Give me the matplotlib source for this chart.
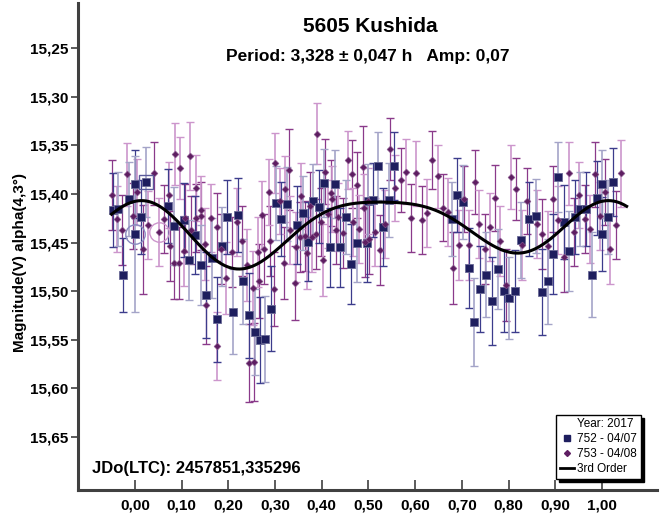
import numpy as np
import matplotlib
matplotlib.use("Agg")
import matplotlib.pyplot as plt
from matplotlib.lines import Line2D

plt.rcParams['font.family'] = ['Liberation Sans', 'DejaVu Sans']

# session 752 - 04/07 (squares)
phase_752 = [-0.048, -0.036, -0.025, -0.013, 0.001, 0.001, 0.012, 0.023, 0.071, 0.083,
             0.105, 0.116, 0.128, 0.141, 0.152, 0.164, 0.175, 0.187, 0.198, 0.209,
             0.221, 0.232, 0.245, 0.256, 0.268, 0.279, 0.291, 0.301, 0.313, 0.325,
             0.348, 0.359, 0.371, 0.382, 0.394, 0.405, 0.417, 0.429, 0.440, 0.451,
             0.463, 0.475, 0.496, 0.500, 0.509, 0.521, 0.532, 0.544, 0.555, 0.678,
             0.690, 0.702, 0.716, 0.727, 0.740, 0.752, 0.764, 0.778, 0.790, 0.801,
             0.814, 0.827, 0.844, 0.858, 0.872, 0.884, 0.896, 0.907, 0.919, 0.930,
             0.942, 0.954, 0.965, 0.979, 0.990, 1.001, 1.001, 1.013, 1.024]
mag_752 = [15.417, 15.416, 15.483, 15.405, 15.390, 15.441, 15.424, 15.388, 15.412, 15.433,
           15.427, 15.468, 15.442, 15.473, 15.504, 15.466, 15.529, 15.454, 15.424, 15.521,
           15.422, 15.490, 15.525, 15.542, 15.550, 15.549, 15.518, 15.409, 15.426, 15.410,
           15.432, 15.420, 15.449, 15.407, 15.413, 15.389, 15.455, 15.390, 15.455, 15.424,
           15.472, 15.450, 15.450, 15.407, 15.406, 15.371, 15.434, 15.406, 15.371, 15.426,
           15.401, 15.408, 15.476, 15.532, 15.498, 15.483, 15.510, 15.477, 15.500, 15.507,
           15.500, 15.447, 15.426, 15.423, 15.501, 15.490, 15.462, 15.383, 15.429, 15.459,
           15.424, 15.416, 15.416, 15.483, 15.404, 15.390, 15.441, 15.424, 15.388]
err_752 = [0.038, 0.038, 0.038, 0.038, 0.035, 0.080, 0.038, 0.036, 0.038, 0.040,
           0.038, 0.041, 0.040, 0.041, 0.044, 0.041, 0.044, 0.041, 0.038, 0.044,
           0.038, 0.044, 0.044, 0.044, 0.044, 0.044, 0.044, 0.038, 0.038, 0.038,
           0.040, 0.038, 0.041, 0.038, 0.038, 0.035, 0.041, 0.035, 0.041, 0.038,
           0.041, 0.041, 0.041, 0.038, 0.038, 0.035, 0.040, 0.038, 0.035, 0.038,
           0.038, 0.038, 0.041, 0.045, 0.044, 0.044, 0.045, 0.041, 0.042, 0.042,
           0.042, 0.039, 0.038, 0.038, 0.044, 0.044, 0.041, 0.036, 0.038, 0.041,
           0.038, 0.038, 0.038, 0.044, 0.038, 0.035, 0.038, 0.038, 0.035]

# session 753 - 04/08 (diamonds)
phase_753 = [-0.050, -0.038, -0.028, -0.017, -0.005, 0.005, 0.017, 0.028, 0.040, 0.052,
             0.063, 0.073, 0.074, 0.085, 0.084, 0.096, 0.095, 0.105, 0.107, 0.118,
             0.119, 0.130, 0.131, 0.141, 0.141, 0.151, 0.153, 0.163, 0.175, 0.176,
             0.185, 0.195, 0.207, 0.218, 0.230, 0.239, 0.244, 0.252, 0.254, 0.264,
             0.265, 0.273, 0.277, 0.287, 0.289, 0.299, 0.298, 0.310, 0.319, 0.322,
             0.330, 0.333, 0.342, 0.345, 0.353, 0.355, 0.364, 0.368, 0.375, 0.379,
             0.388, 0.390, 0.398, 0.402, 0.408, 0.413, 0.420, 0.423, 0.430, 0.434,
             0.446, 0.457, 0.465, 0.468, 0.476, 0.480, 0.488, 0.490, 0.493, 0.500,
             0.502, 0.513, 0.525, 0.535, 0.546, 0.557, 0.569, 0.580, 0.592, 0.602,
             0.615, 0.626, 0.637, 0.648, 0.660, 0.671, 0.682, 0.694, 0.705, 0.716,
             0.728, 0.737, 0.749, 0.760, 0.772, 0.782, 0.794, 0.806, 0.817, 0.829,
             0.840, 0.862, 0.872, 0.884, 0.895, 0.906, 0.918, 0.929, 0.940, 0.951,
             0.963, 0.974, 0.985, 0.996, 1.007, 1.018, 1.030, 1.041]
mag_753 = [15.401, 15.426, 15.437, 15.380, 15.423, 15.398, 15.457, 15.432, 15.379, 15.439,
           15.426, 15.401, 15.454, 15.359, 15.471, 15.373, 15.471, 15.459, 15.425, 15.361,
           15.437, 15.394, 15.425, 15.417, 15.423, 15.452, 15.514, 15.425, 15.434, 15.556,
           15.457, 15.486, 15.460, 15.429, 15.448, 15.473, 15.574, 15.497, 15.573, 15.460,
           15.490, 15.422, 15.457, 15.398, 15.448, 15.368, 15.498, 15.407, 15.471, 15.395,
           15.375, 15.437, 15.492, 15.455, 15.444, 15.402, 15.443, 15.461, 15.412, 15.444,
           15.441, 15.338, 15.429, 15.468, 15.377, 15.421, 15.399, 15.405, 15.437, 15.424,
           15.440, 15.365, 15.380, 15.429, 15.391, 15.436, 15.372, 15.414, 15.449, 15.407,
           15.446, 15.439, 15.458, 15.431, 15.354, 15.394, 15.386, 15.377, 15.425, 15.379,
           15.427, 15.420, 15.365, 15.382, 15.414, 15.419, 15.476, 15.453, 15.405, 15.453,
           15.388, 15.431, 15.457, 15.434, 15.404, 15.448, 15.494, 15.383, 15.395, 15.453,
           15.407, 15.431, 15.441, 15.454, 15.405, 15.427, 15.465, 15.379, 15.439, 15.401,
           15.426, 15.436, 15.380, 15.423, 15.398, 15.457, 15.432, 15.379]
err_753 = [0.036, 0.034, 0.036, 0.032, 0.034, 0.034, 0.046, 0.035, 0.032, 0.035,
           0.035, 0.034, 0.036, 0.032, 0.037, 0.032, 0.037, 0.036, 0.035, 0.035,
           0.035, 0.034, 0.035, 0.035, 0.035, 0.037, 0.040, 0.035, 0.035, 0.035,
           0.036, 0.037, 0.036, 0.035, 0.036, 0.037, 0.040, 0.038, 0.040, 0.036,
           0.038, 0.035, 0.036, 0.034, 0.036, 0.031, 0.038, 0.034, 0.037, 0.034,
           0.042, 0.035, 0.038, 0.036, 0.036, 0.034, 0.036, 0.037, 0.034, 0.036,
           0.036, 0.031, 0.035, 0.037, 0.033, 0.035, 0.034, 0.034, 0.035, 0.035,
           0.036, 0.030, 0.035, 0.035, 0.034, 0.035, 0.042, 0.034, 0.036, 0.034,
           0.036, 0.035, 0.036, 0.035, 0.032, 0.034, 0.033, 0.033, 0.035, 0.033,
           0.035, 0.035, 0.030, 0.032, 0.034, 0.035, 0.037, 0.036, 0.034, 0.036,
           0.033, 0.035, 0.036, 0.035, 0.034, 0.036, 0.037, 0.033, 0.032, 0.036,
           0.034, 0.035, 0.036, 0.036, 0.034, 0.035, 0.036, 0.032, 0.035, 0.034,
           0.035, 0.035, 0.033, 0.035, 0.034, 0.036, 0.035, 0.034]

# samples of the 3rd order fit
curve_phase = [-0.050, 0.007, 0.054, 0.125, 0.161, 0.218, 0.261, 0.296, 0.332, 0.368,
               0.403, 0.439, 0.475, 0.510, 0.546, 0.582, 0.617, 0.649, 0.682, 0.717,
               0.753, 0.789, 0.817, 0.853, 0.896, 0.931, 0.967, 1.003, 1.031, 1.053]
curve_mag = [15.418, 15.407, 15.417, 15.441, 15.465, 15.478, 15.473, 15.461, 15.444, 15.430,
             15.420, 15.413, 15.410, 15.409, 15.408, 15.409, 15.413, 15.418, 15.427, 15.437,
             15.449, 15.458, 15.461, 15.458, 15.444, 15.430, 15.415, 15.407, 15.408, 15.413]

y_ticks = [15.25, 15.30, 15.35, 15.40, 15.45, 15.50, 15.55, 15.60, 15.65]
x_ticks = [0.0, 0.1, 0.2, 0.3, 0.4, 0.5, 0.6, 0.7, 0.8, 0.9, 1.0]


def fourier_design(ph, order=3):
    ph = np.asarray(ph)
    cols = [np.ones_like(ph)]
    for k in range(1, order + 1):
        cols.append(np.cos(2 * np.pi * k * ph))
        cols.append(np.sin(2 * np.pi * k * ph))
    return np.column_stack(cols)


coef, *_ = np.linalg.lstsq(fourier_design(curve_phase), np.array(curve_mag), rcond=None)
fit_x = np.linspace(-0.05, 1.053, 400)
fit_y = fourier_design(fit_x) @ coef

fig = plt.figure(figsize=(6.65, 5.19), dpi=100)
ax = fig.add_axes([78 / 665, 29 / 519, 579 / 665, 487 / 519])

dark = '#3c3c8c'
pale = '#a4a4c8'
mag_dark = '#8a3a8a'
mag_pale = '#cc96cc'

p7 = np.array(phase_752)
m7 = np.array(mag_752)
e7 = np.array(err_752)
p8 = np.array(phase_753)
m8 = np.array(mag_753)
e8 = np.array(err_753)

# error bars, alternating shades like the original
ax.errorbar(p8[0::2], m8[0::2], yerr=e8[0::2], fmt='none', ecolor=mag_dark, elinewidth=0.9, capsize=3, zorder=2)
ax.errorbar(p8[1::2], m8[1::2], yerr=e8[1::2], fmt='none', ecolor=mag_pale, elinewidth=1.2, capsize=3, zorder=2)
ax.errorbar(p7[0::2], m7[0::2], yerr=e7[0::2], fmt='none', ecolor=dark, elinewidth=0.9, capsize=3, zorder=2)
ax.errorbar(p7[1::2], m7[1::2], yerr=e7[1::2], fmt='none', ecolor=pale, elinewidth=1.2, capsize=3, zorder=2)

ax.plot(p7, m7, 's', ms=5.3, mfc='#1e1e5e', mec='#6a6a96', mew=0.6, zorder=4)
ax.plot(p8, m8, 'D', ms=3.5, mfc='#5e1e62', mec='#8a5a8e', mew=0.4, zorder=4)

# marked points
ax.plot([phase_752[5]], [mag_752[5]], 'o', ms=14, mfc='none', mec='#8a8ac0', mew=1.0, zorder=5)
ax.plot([phase_753[9]], [mag_753[9]], 'o', ms=14, mfc='none', mec='#cc96cc', mew=1.0, zorder=5)
ax.plot([phase_752[7]], [mag_752[7]], 's', ms=10, mfc='none', mec='#5a5a9a', mew=1.0, zorder=5)

ax.plot(fit_x, fit_y, color='black', lw=2.2, zorder=6)

ax.set_xlim(-0.122, 1.118)
ax.set_ylim(15.7045, 15.2037)
ax.set_xticks(x_ticks)
ax.set_xticklabels([f"{v:.2f}".replace('.', ',') for v in x_ticks])
ax.set_yticks(y_ticks)
ax.set_yticklabels([f"{v:.2f}".replace('.', ',') for v in y_ticks])
ax.tick_params(axis='x', direction='in', length=7, width=1.2, labelsize=11, pad=6, color='#404040')
ax.tick_params(axis='y', direction='out', length=5, width=1.2, labelsize=11, pad=2, color='#404040')
for lab in ax.get_xticklabels() + ax.get_yticklabels():
    lab.set_fontweight('bold')
for s in ['left', 'bottom']:
    ax.spines[s].set_linewidth(2.2)
    ax.spines[s].set_color('#404040')
for s in ['top', 'right']:
    ax.spines[s].set_visible(False)

fig.text(370 / 665, 1 - 27 / 519, '5605 Kushida', ha='center', va='center', fontsize=15, fontweight='bold')
fig.text(368 / 665, 1 - 56 / 519, 'Period: 3,328 \u00b1 0,047 h   Amp: 0,07', ha='center', va='center',
         fontsize=12.5, fontweight='bold')
fig.text(92 / 665, 1 - 468 / 519, 'JDo(LTC): 2457851,335296', ha='left', va='center', fontsize=12,
         fontweight='bold')
fig.text(20 / 665, 1 - 262 / 519, 'Magnitude(V) alpha(4,3\u00b0)', ha='center', va='center', rotation=90,
         fontsize=11, fontweight='bold')

handles = [Line2D([], [], ls='none'),
           Line2D([], [], ls='none', marker='s', ms=4, mfc='#1e1e5e', mec='#1e1e5e'),
           Line2D([], [], ls='none', marker='D', ms=3, mfc='#5e1e62', mec='#5e1e62'),
           Line2D([], [], color='black', lw=2)]
labels = ['Year: 2017', '752 - 04/07', '753 - 04/08', '3rd Order']
leg = ax.legend(handles, labels, loc='lower right', bbox_to_anchor=(0.972, 0.023), borderaxespad=0,
                fontsize=8.5, handlelength=1.2, handletextpad=0.3, labelspacing=0.25, borderpad=0.3,
                fancybox=False, framealpha=1, edgecolor='black', shadow={'color': 'black', 'alpha': 1})
leg.get_frame().set_linewidth(1.0)

plt.savefig('out.png', dpi=100)
